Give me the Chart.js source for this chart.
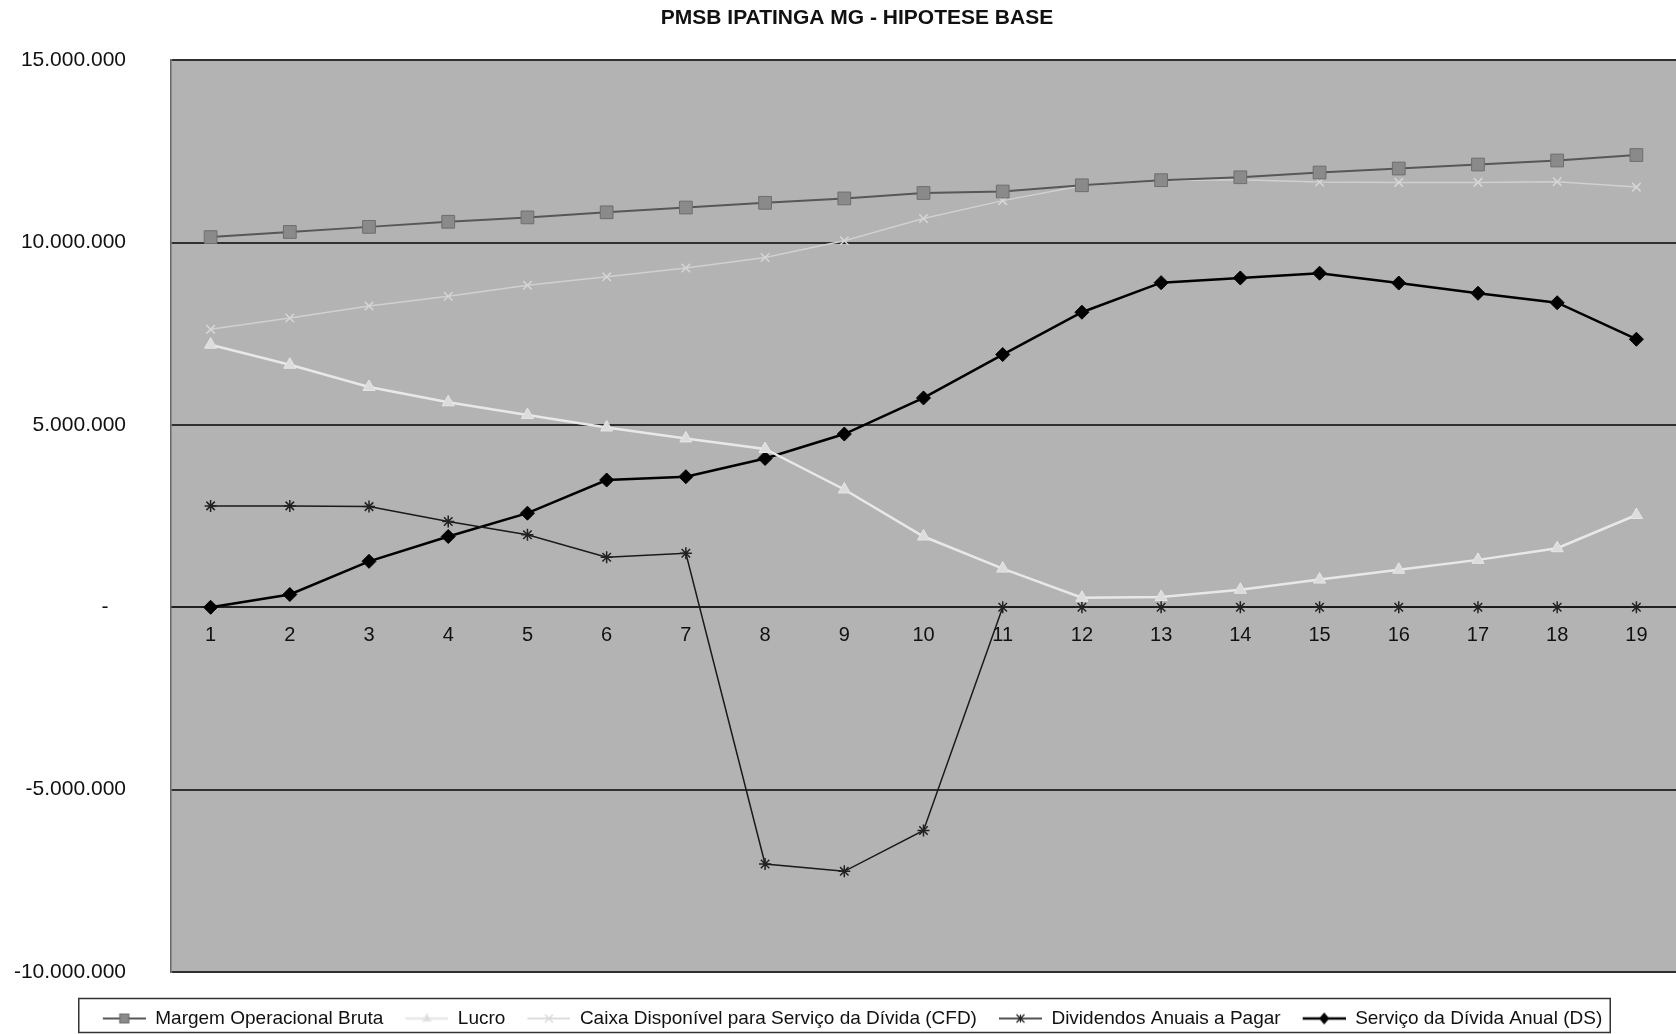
<!DOCTYPE html>
<html>
<head>
<meta charset="utf-8">
<script src="https://cdn.jsdelivr.net/npm/chart.js@4/dist/chart.umd.min.js"></script>
<style>
body { margin: 0; background: #fff; }
#wrap { width: 1676px; height: 1034px; position: relative; }
</style>
</head>
<body>
<div id="wrap"><canvas id="chart"></canvas></div>
<script>
const anos = ["1","2","3","4","5","6","7","8","9","10","11","12","13","14","15","16","17","18","19"]

const margem = [10150000,10290000,10430000,10570000,10690000,10830000,10960000,11090000,11210000,11360000,11400000,11570000,11710000,11790000,11920000,12030000,12140000,12250000,12400000]
const lucro = [7200000,6650000,6040000,5620000,5270000,4930000,4630000,4340000,3230000,1940000,1060000,260000,280000,480000,760000,1030000,1300000,1620000,2530000]
const cfd = [7620000,7930000,8260000,8530000,8830000,9060000,9300000,9590000,10050000,10660000,11150000,11560000,11700000,11720000,11660000,11650000,11650000,11670000,11520000]
const dividendos = [2780000,2780000,2760000,2350000,1990000,1370000,1480000,-7040000,-7240000,-6120000,0,0,0,0,0,0,0,0,0]
const servico = [0,350000,1260000,1940000,2580000,3490000,3580000,4080000,4750000,5740000,6930000,8090000,8900000,9030000,9160000,8890000,8610000,8350000,7350000]

const yTicks = [-10000000,-5000000,0,5000000,10000000,15000000]

function fmt(v) {
  if (v === 0) return "-   "
  const s = Math.abs(v).toString().replace(/\B(?=(\d{3})+(?!\d))/g, ".")
  return (v < 0 ? "-" : "") + s
}

// small line+marker picture for the legend
function drawMark(g, style, x, y, r) {
  g.beginPath()
  if (style === "rect") {
    g.rect(x - r, y - r, 2 * r, 2 * r); g.fill(); g.stroke()
  } else if (style === "triangle") {
    g.moveTo(x, y - r); g.lineTo(x + r * 0.9, y + r * 0.6); g.lineTo(x - r * 0.9, y + r * 0.6); g.closePath(); g.fill(); g.stroke()
  } else if (style === "rectRot") {
    g.moveTo(x, y - r); g.lineTo(x + r * 0.85, y); g.lineTo(x, y + r); g.lineTo(x - r * 0.85, y); g.closePath(); g.fill(); g.stroke()
  } else if (style === "crossRot") {
    g.moveTo(x - r, y - r); g.lineTo(x + r, y + r); g.moveTo(x + r, y - r); g.lineTo(x - r, y + r); g.stroke()
  } else if (style === "star") {
    g.moveTo(x - r, y - r); g.lineTo(x + r, y + r); g.moveTo(x + r, y - r); g.lineTo(x - r, y + r)
    g.moveTo(x, y - r); g.lineTo(x, y + r); g.stroke()
  }
}

function legendIcon(ds) {
  const c = document.createElement("canvas")
  c.width = 64
  c.height = 20
  const g = c.getContext("2d")
  g.strokeStyle = ds.borderColor
  g.lineWidth = Math.max(1.5, ds.borderWidth)
  g.beginPath(); g.moveTo(21, 10); g.lineTo(64, 10); g.stroke()
  g.fillStyle = ds.pointBackgroundColor || ds.borderColor
  g.strokeStyle = ds.pointBorderColor || ds.borderColor
  g.lineWidth = 1.2
  drawMark(g, ds.pointStyle, 42.5, 10, ds.legendR)
  return c
}

const datasets = [
  {
    label: "Margem Operacional Bruta", data: margem,
    borderColor: "#575757", borderWidth: 2,
    pointStyle: "rect", pointRadius: 9, pointBackgroundColor: "#8a8a8a", pointBorderColor: "#6e6e6e", pointBorderWidth: 1,
    legendR: 4.5
  },
  {
    label: "Lucro", data: lucro,
    borderColor: "#e8e8e8", borderWidth: 2.5,
    pointStyle: "triangle", pointRadius: 7, pointBackgroundColor: "#dcdcdc", pointBorderColor: "#e6e6e6", pointBorderWidth: 1,
    legendR: 4.5
  },
  {
    label: "Caixa Disponível para Serviço da Dívida (CFD)", data: cfd,
    borderColor: "#d0d0d0", borderWidth: 1.5,
    pointStyle: "crossRot", pointRadius: 6, pointBackgroundColor: "#d6d6d6", pointBorderColor: "#d6d6d6", pointBorderWidth: 1.5,
    legendR: 4
  },
  {
    label: "Dividendos Anuais a Pagar", data: dividendos,
    borderColor: "#1a1a1a", borderWidth: 1.5,
    pointStyle: "star", pointRadius: 6, pointBackgroundColor: "#222", pointBorderColor: "#222", pointBorderWidth: 1.5,
    legendR: 4
  },
  {
    label: "Serviço da Dívida Anual (DS)", data: servico,
    borderColor: "#000", borderWidth: 2.5,
    pointStyle: "rectRot", pointRadius: 7, pointBackgroundColor: "#000", pointBorderColor: "#000", pointBorderWidth: 1,
    legendR: 5
  }
]

const icons = datasets.map(legendIcon)

const plotBg = {
  id: "plotBg",
  beforeDraw(chart) {
    const a = chart.chartArea
    const ctx = chart.ctx
    ctx.save()
    ctx.fillStyle = "#b3b3b3"
    ctx.fillRect(a.left, a.top, a.right - a.left, a.bottom - a.top)
    ctx.restore()
  }
}

// nudge title and legend, then frame the legend like the original
const legendBox = {
  id: "legendBox",
  afterLayout(chart) {
    const lg = chart.legend
    lg.top += 4; lg.bottom += 4
    lg.left -= 1; lg.right -= 1
    const t = chart.titleBlock
    t.left += 14; t.right += 14
  },
  afterDraw(chart) {
    const hb = chart.legend.legendHitBoxes
    if (!hb || !hb.length) return
    const last = hb[hb.length - 1]
    const l = hb[0].left - 3
    const r = last.left + last.width + 8
    const cy = hb[0].top + 9.5
    const ctx = chart.ctx
    ctx.save()
    ctx.strokeStyle = "#333"
    ctx.lineWidth = 1.5
    ctx.strokeRect(l, cy - 20, r - l, 34)
    ctx.restore()
  }
}

Chart.defaults.font.family = "'Liberation Sans', Arial, sans-serif"
Chart.defaults.color = "#111"

new Chart(document.getElementById("chart"), {
  type: "line",
  data: { labels: anos, datasets: datasets },
  options: {
    responsive: true,
    maintainAspectRatio: false,
    animation: false,
    layout: { autoPadding: false, padding: { left: 10, right: 0, top: 0, bottom: 0 } },
    elements: { line: { tension: 0 } },
    scales: {
      x: {
        type: "category",
        offset: true,
        position: { y: 0 },
        afterFit: s => { s.paddingLeft = 0; s.paddingRight = 0 },
        grid: { display: false, drawTicks: false },
        border: { display: true, color: "#222", width: 2 },
        ticks: { font: { size: 20 }, color: "#111", padding: 16, maxRotation: 0, autoSkip: false }
      },
      y: {
        min: -10000000,
        max: 15000000,
        afterBuildTicks: s => { s.ticks = yTicks.map(v => ({ value: v })) },
        afterFit: s => { s.width = 161 },
        grid: { color: "#303030", lineWidth: 2, drawTicks: false },
        border: { display: true, color: "#666", width: 1.5 },
        ticks: { font: { size: 21 }, color: "#111", padding: 45, callback: v => fmt(v) }
      }
    },
    plugins: {
      title: {
        display: true,
        text: "PMSB IPATINGA MG - HIPOTESE BASE",
        font: { size: 21, weight: "bold", lineHeight: 1.2 },
        color: "#111",
        padding: { top: 6, bottom: 29 }
      },
      legend: {
        position: "bottom",
        title: { display: true, text: "", font: { size: 10, lineHeight: 1.2 }, padding: { top: 0, bottom: 20 } },
        labels: {
          usePointStyle: true,
          pointStyleWidth: 64,
          padding: 1,
          color: "#111",
          font: { size: 19 },
          generateLabels: chart => {
            const items = Chart.defaults.plugins.legend.labels.generateLabels(chart)
            items.forEach(it => { it.pointStyle = icons[it.datasetIndex] })
            return items
          }
        }
      },
      tooltip: { enabled: false }
    }
  },
  plugins: [plotBg, legendBox]
})
</script>
</body>
</html>
